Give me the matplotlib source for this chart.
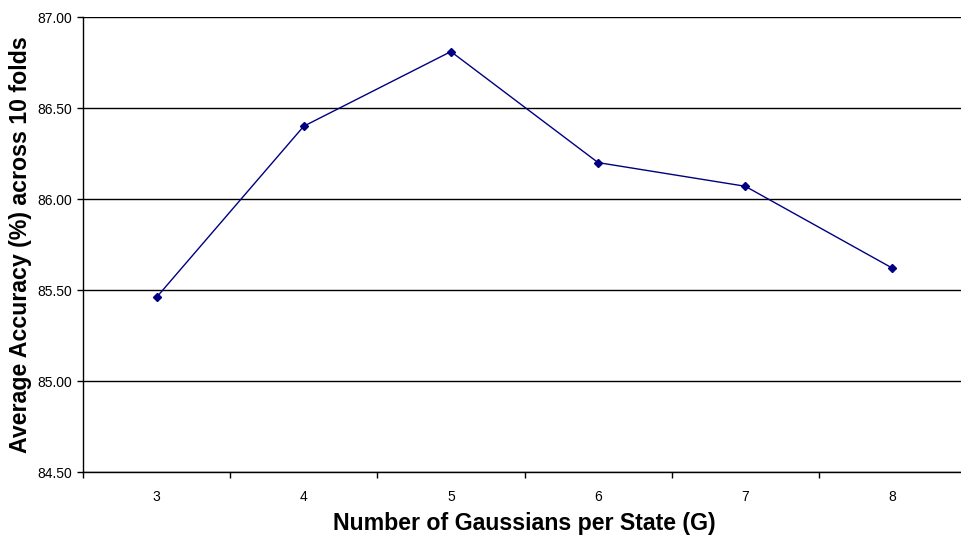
import numpy as np
import matplotlib
matplotlib.use('Agg')
import matplotlib.pyplot as plt
from matplotlib.ticker import FixedLocator

gaussians = ['3', '4', '5', '6', '7', '8']
accuracy = [85.46, 86.40, 86.81, 86.20, 86.07, 85.62]
y_ticks = [84.50, 85.00, 85.50, 86.00, 86.50, 87.00]

plt.rcParams['font.family'] = ['Liberation Sans', 'DejaVu Sans']

fig = plt.figure(figsize=(9.61, 5.36), dpi=100)
W, H = 961, 536
ax = fig.add_axes([83 / W, (H - 472) / H, 883 / W, (472 - 17) / H])

idx = np.arange(1, len(gaussians) + 1)
ax.plot(idx, accuracy, c='#000080', lw=1, marker='D', ms=4, zorder=3)

ax.set_xlim(0.5, len(gaussians) + 0.5)
ax.set_ylim(84.5, 87.0)

# y axis
ax.set_yticks(y_ticks)
ax.set_yticklabels(['{:.2f}'.format(v) for v in y_ticks], fontsize=10)
ax.yaxis.grid(True, color='black', lw=1)
ax.tick_params(axis='y', direction='out', length=4, width=1, pad=4)

# x axis: labels at categories, ticks at boundaries
ax.set_xticks(idx)
ax.set_xticklabels(gaussians, fontsize=10)
ax.tick_params(axis='x', which='major', length=0, pad=13)
ax.xaxis.set_minor_locator(FixedLocator(np.arange(0.5, len(gaussians) + 1, 1)))
ax.tick_params(axis='x', which='minor', direction='out', length=4, width=1)

for s in ['top', 'right']:
    ax.spines[s].set_visible(False)
for s in ['left', 'bottom']:
    ax.spines[s].set_linewidth(1)

ax.set_xlabel('Number of Gaussians per State (G)', fontsize=16.7, fontweight='bold', labelpad=6)
ax.set_ylabel('Average Accuracy (%) across 10 folds', fontsize=16.7, fontweight='bold', labelpad=4)

fig.savefig('out.png', dpi=100)
